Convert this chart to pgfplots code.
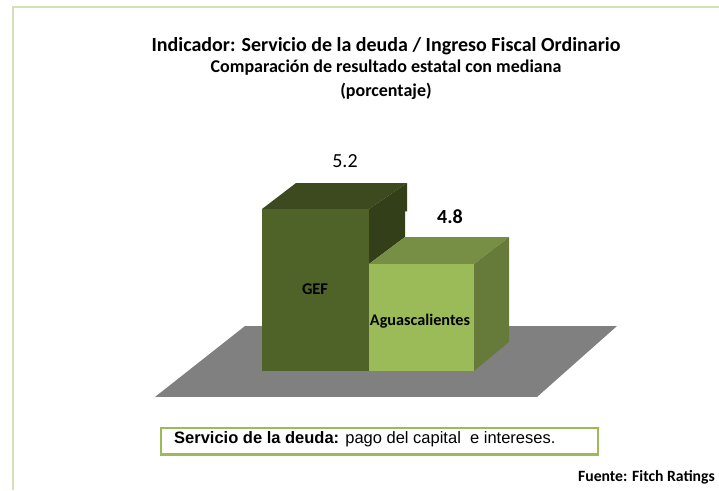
\documentclass[border=0pt]{standalone}
\usepackage{fontspec}
\setmainfont{Carlito}
\newfontfamily\arialf{Liberation Sans}
\usepackage{pgfplots}
\pgfplotsset{compat=1.18}
\definecolor{gefF}{HTML}{4F6228}
\definecolor{gefT}{HTML}{3D4A20}
\definecolor{gefR}{HTML}{323F18}
\definecolor{agF}{HTML}{9BBB59}
\definecolor{agT}{HTML}{768F45}
\definecolor{agR}{HTML}{667B39}
\definecolor{floorc}{HTML}{808080}
\definecolor{framec}{HTML}{D3E2B6}
\definecolor{boxc}{HTML}{9BBB59}
\begin{document}
\begin{tikzpicture}
\begin{axis}[
  width=719pt,height=490pt,scale only axis,hide axis,clip=false,
  xmin=0,xmax=719,ymin=3.1564,ymax=6.72,
  every axis plot/.append style={draw=none},
]
\newcommand{\rp}[2]{(rel axis cs:{#1/719},{1-#2/490})}
\path[use as bounding box] \rp{0}{0} rectangle \rp{719}{490};
% floor
\addplot[fill=floorc] coordinates {(245,4.349)(617,4.349)(537,3.833)(155,3.833)} -- cycle;
% GEF (5.2)
\addplot[fill=gefT] coordinates {(262,5.2)(296,5.389)(407,5.389)(369,5.2)} -- cycle;
\addplot[fill=gefR] coordinates {(369,5.2)(407,5.389)(407,5.182)(405,5.182)(405,4.996)(369,4.8)} -- cycle;
\addplot[fill=gefF] coordinates {(262,4.022)(262,5.2)(369,5.2)(369,4.022)} -- cycle;
% Aguascalientes (4.8)
\addplot[fill=agT] coordinates {(369,4.8)(405,4.996)(509,4.996)(474,4.8)} -- cycle;
\addplot[fill=agR] coordinates {(474,4.8)(509,4.996)(509,4.233)(474,4.022)} -- cycle;
\addplot[fill=agF] coordinates {(369,4.022)(369,4.8)(474,4.8)(474,4.022)} -- cycle;

% frame
\draw[framec,line width=1.5pt] \rp{13}{490} -- \rp{13}{7} -- \rp{719}{7};
% box
\draw[boxc,line width=1.5pt] \rp{161}{428} rectangle \rp{598}{454};
\draw[boxc,line width=3pt] \rp{160}{454.5} -- \rp{599}{454.5};
% texts
\node[font=\bfseries\fontsize{20}{24}\selectfont] at \rp{386}{46} {Indicador: Servicio de la deuda / Ingreso Fiscal Ordinario};
\node[font=\bfseries\fontsize{18}{22}\selectfont] at \rp{386}{68} {Comparación de resultado estatal con mediana};
\node[font=\bfseries\fontsize{18}{22}\selectfont] at \rp{386}{91} {(porcentaje)};
\node[font=\fontsize{20}{24}\selectfont] at \rp{345}{161} {5.2};
\node[font=\bfseries\fontsize{20}{24}\selectfont] at \rp{450}{217} {4.8};
\node[font=\bfseries\fontsize{16.4}{20}\selectfont] at \rp{315}{289} {GEF};
\node[inner sep=0pt,font=\bfseries\fontsize{16.2}{20}\selectfont] at \rp{420}{321} {Aguascalientes};
\node[anchor=west,inner sep=0pt,font=\arialf\fontsize{16.5}{20}\selectfont] at \rp{174}{439} {\textbf{Servicio de la deuda:} pago del capital\ \ e intereses.};
\node[anchor=east,inner sep=0pt,font=\bfseries\fontsize{15.7}{19}\selectfont] at \rp{715}{477} {Fuente: Fitch Ratings};
\end{axis}
\end{tikzpicture}
\end{document}
